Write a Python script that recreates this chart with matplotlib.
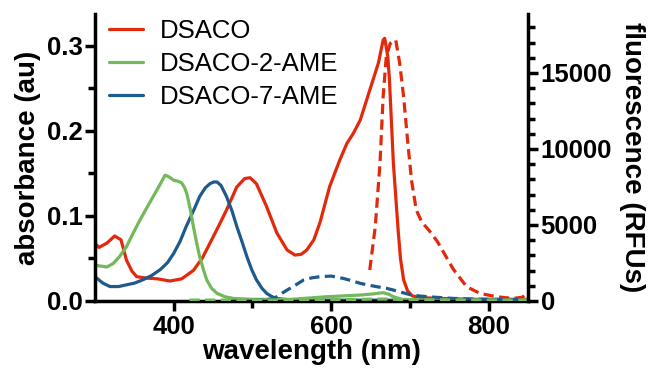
import matplotlib
matplotlib.use("Agg")
import matplotlib.pyplot as plt
from matplotlib.ticker import MultipleLocator, FixedLocator, FormatStrFormatter
from matplotlib.lines import Line2D

# ---------------- data ----------------
series_names = ["DSACO", "DSACO-2-AME", "DSACO-7-AME"]

# DSACO absorbance (left axis)
dsaco_abs_wl = [300, 305, 315, 325, 333, 340, 347, 353, 365, 380, 395, 410, 425, 436, 446,
                457, 467, 480, 490, 497, 505, 518, 531, 544, 554, 562, 569, 578, 586, 598,
                611, 620, 628, 637, 649, 660, 666, 668, 672, 674, 676, 679, 682, 685, 688,
                692, 697, 703, 713, 740, 780, 820, 850]
dsaco_abs = [0.068, 0.063, 0.068, 0.0765, 0.072, 0.048, 0.035, 0.0286, 0.027, 0.026, 0.0235,
             0.026, 0.036, 0.050, 0.068, 0.088, 0.107, 0.134, 0.144, 0.145, 0.138, 0.111,
             0.080, 0.060, 0.054, 0.055, 0.060, 0.072, 0.093, 0.1345, 0.166, 0.1855, 0.197,
             0.213, 0.248, 0.280, 0.307, 0.309, 0.287, 0.260, 0.221, 0.162, 0.123, 0.084,
             0.050, 0.025, 0.012, 0.006, 0.004, 0.003, 0.002, 0.002, 0.002]

# DSACO fluorescence (right axis)
dsaco_fl_wl = [649, 656, 662, 666, 670, 675, 682, 687, 692, 697, 702, 708, 715, 725, 735,
               745, 755, 772, 789, 810, 831, 843, 850]
dsaco_fl = [2040, 4890, 9060, 13440, 16070, 16950, 17170, 15640, 13440, 10590, 7960, 6000,
            5200, 4600, 3900, 3000, 2100, 940, 500, 280, 170, 250, 600]

# DSACO-2-AME absorbance (left axis)
ame2_abs_wl = [300, 308, 315, 323, 331, 340, 348, 357, 366, 374, 382, 389, 394, 400, 405,
               410, 414, 417, 421, 425, 429, 433, 438, 442, 448, 455, 465, 476, 500, 550,
               594, 637, 655, 666, 673, 679, 690, 720, 850]
ame2_abs = [0.042, 0.041, 0.040, 0.044, 0.052, 0.064, 0.079, 0.095, 0.110, 0.123, 0.136,
            0.148, 0.146, 0.142, 0.141, 0.139, 0.133, 0.125, 0.108, 0.0875, 0.069, 0.052,
            0.036, 0.0247, 0.015, 0.009, 0.005, 0.003, 0.002, 0.002, 0.005, 0.007, 0.0085,
            0.0098, 0.008, 0.005, 0.002, 0.001, 0.001]

# DSACO-2-AME fluorescence (right axis)
ame2_fl_wl = [420, 500, 600, 650, 670, 700, 800, 850]
ame2_fl = [60, 60, 80, 120, 130, 80, 60, 60]

# DSACO-7-AME absorbance (left axis)
ame7_abs_wl = [300, 310, 319, 330, 340, 350, 361, 372, 383, 392, 400, 408, 416, 425, 433,
               440, 446, 451, 455, 460, 467, 474, 480, 487, 493, 499, 505, 512, 518, 525,
               531, 545, 600, 700, 850]
ame7_abs = [0.0286, 0.021, 0.017, 0.017, 0.019, 0.021, 0.025, 0.030, 0.037, 0.045, 0.056,
            0.070, 0.088, 0.106, 0.123, 0.133, 0.138, 0.140, 0.140, 0.136, 0.123, 0.106,
            0.088, 0.069, 0.052, 0.037, 0.025, 0.015, 0.009, 0.005, 0.003, 0.0015, 0.001,
            0.001, 0.001]

# DSACO-7-AME fluorescence (right axis)
ame7_fl_wl = [480, 500, 515, 527, 535, 544, 555, 565, 575, 586, 600, 615, 627, 637, 648,
              658, 670, 679, 690, 700, 712, 726, 740, 755, 780, 810, 850]
ame7_fl = [20, 40, 80, 150, 430, 720, 1060, 1380, 1520, 1600, 1640, 1490, 1320, 1160, 1040,
           940, 840, 720, 560, 420, 330, 270, 220, 170, 130, 100, 80]

x_ticks = [400, 600, 800]
left_ticks = [0.0, 0.1, 0.2, 0.3]
right_ticks = [0, 5000, 10000, 15000]

# ---------------- style ----------------
RED = "#E2290B"
GREEN = "#73B95C"
BLUE = "#1E5A8C"
plt.rcParams["font.family"] = ["Liberation Sans", "DejaVu Sans"]

fig = plt.figure(figsize=(6.48, 3.69), dpi=100)
ax = fig.add_axes([95 / 648, 1 - 301 / 369, 433 / 648, 287 / 369])
ax2 = ax.twinx()

LW = 2.3
ax.plot(dsaco_abs_wl, dsaco_abs, color=RED, lw=LW, solid_capstyle="round", solid_joinstyle="round")
ax.plot(ame7_abs_wl, ame7_abs, color=BLUE, lw=LW, solid_capstyle="round", solid_joinstyle="round")
ax.plot(ame2_abs_wl, ame2_abs, color=GREEN, lw=LW, solid_capstyle="round", solid_joinstyle="round")

dash = (0, (3.2, 1.7))
ax2.plot(dsaco_fl_wl, dsaco_fl, color=RED, lw=LW, linestyle=dash)
ax2.plot(ame7_fl_wl, ame7_fl, color=BLUE, lw=LW, linestyle=dash)
ax2.plot(ame2_fl_wl, ame2_fl, color=GREEN, lw=LW, linestyle=dash)

ax.set_xlim(300, 850)
ax.set_ylim(0, 0.3376)
ax2.set_ylim(0, 18880)

ax.xaxis.set_major_locator(FixedLocator(x_ticks))
ax.xaxis.set_minor_locator(FixedLocator([500, 700]))
ax.yaxis.set_major_locator(FixedLocator(left_ticks))
ax.yaxis.set_minor_locator(MultipleLocator(0.05))
ax.yaxis.set_major_formatter(FormatStrFormatter("%.1f"))
ax2.yaxis.set_major_locator(FixedLocator(right_ticks))
ax2.yaxis.set_minor_locator(MultipleLocator(1000))

SW = 2.5
for a in (ax, ax2):
    a.spines["top"].set_visible(False)
    for s in ("left", "right", "bottom"):
        a.spines[s].set_linewidth(SW)
ax.spines["right"].set_visible(False)
ax2.spines["left"].set_visible(False)
ax2.spines["bottom"].set_visible(False)

TS = 18.5
ax.tick_params(axis="both", which="major", length=7, width=SW, labelsize=TS, pad=2)
ax.tick_params(axis="both", which="minor", length=5, width=SW)
ax.tick_params(axis="x", which="major", pad=3)
ax2.tick_params(axis="y", which="major", length=7, width=SW, labelsize=TS, pad=2)
ax2.tick_params(axis="y", which="minor", length=5, width=SW)
for lab in ax.get_xticklabels() + ax.get_yticklabels() + ax2.get_yticklabels():
    lab.set_fontweight("bold")

ax.set_xlabel("wavelength (nm)", fontsize=20, fontweight="bold", labelpad=0)
ax.set_ylabel("absorbance (au)", fontsize=20, fontweight="bold", labelpad=4)
ax2.set_ylabel("fluorescence (RFUs)", fontsize=20, fontweight="bold", rotation=270,
               va="bottom", labelpad=5)

handles = [Line2D([], [], color=c, lw=LW, solid_capstyle="round") for c in (RED, GREEN, BLUE)]
ax.legend(handles, series_names, loc="upper left", bbox_to_anchor=(0.033, 0.982),
          frameon=False, fontsize=18.5, handlelength=1.3, handletextpad=0.65,
          labelspacing=0.34, borderpad=0, borderaxespad=0)

fig.savefig("out.png", dpi=100)
